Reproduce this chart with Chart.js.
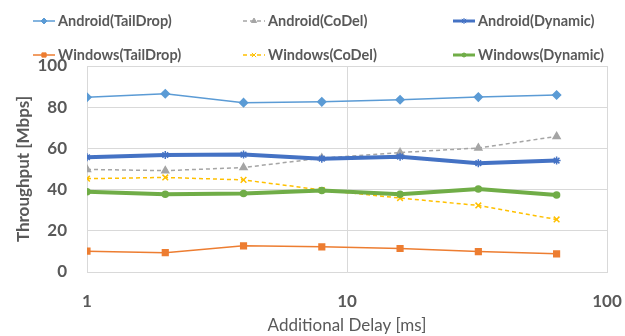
<!DOCTYPE html>
<html>
<head>
<meta charset="utf-8">
<script src="https://cdn.jsdelivr.net/npm/chart.js@4"></script>
<style>
  body { margin: 0; background: #fff; }
  #chart { display: block; }
</style>
</head>
<body>
<canvas id="chart" width="625" height="336"></canvas>
<script>
// delay steps in ms and throughput per series
const delays = [1, 2, 4, 8, 16, 32, 64];
const androidTailDrop = [84.8, 86.5, 82.2, 82.6, 83.6, 84.9, 85.9];
const androidCoDel = [49.8, 49.2, 50.7, 55.3, 58.0, 60.2, 65.8];
const androidDynamic = [55.7, 56.8, 57.0, 55.0, 56.0, 52.8, 54.1];
const windowsTailDrop = [10.1, 9.4, 12.7, 12.2, 11.4, 9.9, 8.8];
const windowsCoDel = [45.3, 45.9, 44.7, 39.8, 35.9, 32.3, 25.5];
const windowsDynamic = [39.0, 37.8, 38.1, 39.6, 37.7, 40.3, 37.4];
const xTicks = [1, 10, 100];

const textColor = '#595959';
const gridColor = '#d9d9d9';

function pts(vals) {
    return vals.map((v, i) => ({x: delays[i], y: v}));
}

const series = [
    {label: 'Android(TailDrop)', vals: androidTailDrop, color: '#5b9bd5', width: 1.5, dash: [], marker: 'rectRot', r: 4},
    {label: 'Android(CoDel)', vals: androidCoDel, color: '#a5a5a5', width: 1.5, dash: [4, 3], marker: 'triangle', r: 4},
    {label: 'Android(Dynamic)', vals: androidDynamic, color: '#4472c4', width: 4, dash: [], marker: 'star', r: 4},
    {label: 'Windows(TailDrop)', vals: windowsTailDrop, color: '#ed7d31', width: 1.5, dash: [], marker: 'rect', r: 4},
    {label: 'Windows(CoDel)', vals: windowsCoDel, color: '#ffc000', width: 1.5, dash: [4, 3], marker: 'crossRot', r: 4},
    {label: 'Windows(Dynamic)', vals: windowsDynamic, color: '#70ad47', width: 4, dash: [], marker: 'circle', r: 3}
];

// legend in two rows of three, line + marker then label
const legendBox = {
    id: 'legendBox',
    afterDraw(chart) {
        const ctx = chart.ctx;
        const cols = [33, 243, 453];
        const rows = [21, 55];
        ctx.save();
        series.forEach((s, i) => {
            const x = cols[i % 3];
            const y = rows[Math.floor(i / 3)];
            ctx.strokeStyle = s.color;
            ctx.fillStyle = s.color;
            ctx.lineWidth = Math.min(s.width, 3);
            ctx.setLineDash(s.dash);
            ctx.beginPath();
            ctx.moveTo(x, y);
            ctx.lineTo(x + 22, y);
            ctx.stroke();
            ctx.setLineDash([]);
            ctx.lineWidth = 1;
            Chart.helpers.drawPoint(ctx, {
                pointStyle: s.marker,
                radius: s.r - 1,
                borderWidth: 1
            }, x + 11, y);
            ctx.font = 'bold 14.5px Lato';
            ctx.fillStyle = textColor;
            ctx.textBaseline = 'middle';
            ctx.textAlign = 'left';
            ctx.fillText(s.label, x + 25, y);
        });
        ctx.restore();
    }
};

new Chart(document.getElementById('chart'), {
    type: 'line',
    data: {
        datasets: series.map((s, i) => ({
            label: s.label,
            data: pts(s.vals),
            borderColor: s.color,
            backgroundColor: s.color,
            borderWidth: s.width,
            borderDash: s.dash,
            pointStyle: s.marker,
            pointRadius: s.r,
            pointBorderWidth: 1.5,
            pointBorderColor: s.color,
            pointBackgroundColor: s.color,
            tension: 0,
            order: series.length - i
        }))
    },
    options: {
        responsive: false,
        devicePixelRatio: 1,
        animation: false,
        layout: {padding: {top: 66, right: 18, bottom: 0, left: 0}},
        plugins: {
            legend: {display: false},
            tooltip: {enabled: false}
        },
        scales: {
            x: {
                type: 'logarithmic',
                min: 1,
                max: 100,
                afterBuildTicks(scale) {
                    scale.ticks = xTicks.map(v => ({value: v}));
                },
                afterFit(scale) {
                    scale.height = 64;
                    // let the end labels hang over the plot edges
                    scale.paddingLeft = 0;
                    scale.paddingRight = 0;
                },
                grid: {color: gridColor, drawTicks: false},
                border: {color: gridColor},
                ticks: {
                    color: textColor,
                    font: {family: 'Lato', size: 17, weight: 'bold'},
                    padding: 19,
                    maxRotation: 0,
                    callback: v => String(v)
                },
                title: {
                    display: true,
                    text: 'Additional Delay [ms]',
                    color: textColor,
                    font: {family: 'Lato', size: 17},
                    padding: {top: 0, bottom: 0}
                }
            },
            y: {
                min: 0,
                max: 100,
                afterFit(scale) { scale.width = 87; },
                grid: {color: gridColor, drawTicks: false},
                border: {color: gridColor},
                ticks: {
                    stepSize: 20,
                    color: textColor,
                    font: {family: 'Lato', size: 17, weight: 'bold'},
                    padding: 20
                },
                title: {
                    display: true,
                    text: 'Throughput [Mbps]',
                    color: textColor,
                    font: {family: 'Lato', size: 17, weight: 'bold'},
                    padding: {top: 13, bottom: 0}
                }
            }
        }
    },
    plugins: [legendBox]
});
</script>
</body>
</html>
